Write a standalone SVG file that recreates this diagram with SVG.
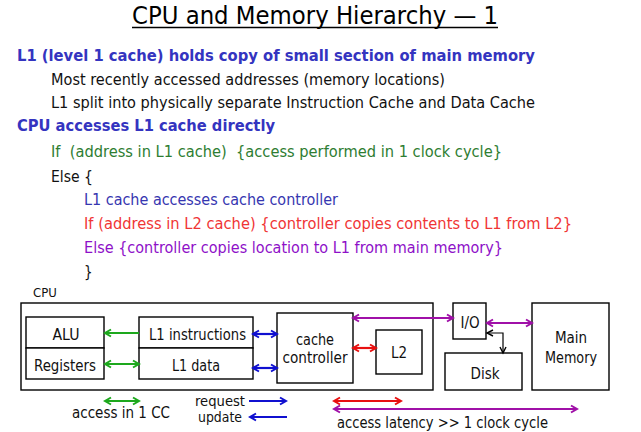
<svg xmlns="http://www.w3.org/2000/svg" width="641" height="432" viewBox="0 0 641 432">
<style>
text{font-family:"DejaVu Sans Condensed","DejaVu Sans","Liberation Sans",sans-serif;}
.t{font-size:15px;}
.b{font-weight:bold;fill:#3434C0;}
.k{fill:#111;}
.g{fill:#2E7D32;}
.bl{fill:#3636B0;}
.r{fill:#F03535;}
.p{fill:#8E10C8;}
.d{font-size:15px;fill:#111;text-anchor:middle;}
.lg{font-size:15px;fill:#111;}
.sm{font-size:14px;fill:#111;}
.box{fill:#fff;stroke:#000;stroke-width:1.4;}
.ag{stroke:#1DA81D;stroke-width:2.2;fill:none;}
.ab{stroke:#1010D0;stroke-width:2.2;fill:none;}
.ar{stroke:#E81010;stroke-width:2.2;fill:none;}
.ap{stroke:#A010A8;stroke-width:2.2;fill:none;}
.ak{stroke:#000;stroke-width:1.2;fill:none;}
</style>
<defs>
<marker id="mg" markerUnits="userSpaceOnUse" markerWidth="10" markerHeight="10" refX="8" refY="5" orient="auto-start-reverse"><path d="M2,1.5 L8,5 L2,8.5" fill="none" stroke="#1DA81D" stroke-width="2"/></marker>
<marker id="mb" markerUnits="userSpaceOnUse" markerWidth="10" markerHeight="10" refX="8" refY="5" orient="auto-start-reverse"><path d="M2,1.5 L8,5 L2,8.5" fill="none" stroke="#1010D0" stroke-width="2"/></marker>
<marker id="mr" markerUnits="userSpaceOnUse" markerWidth="10" markerHeight="10" refX="8" refY="5" orient="auto-start-reverse"><path d="M2,1.5 L8,5 L2,8.5" fill="none" stroke="#E81010" stroke-width="2"/></marker>
<marker id="mp" markerUnits="userSpaceOnUse" markerWidth="10" markerHeight="10" refX="8" refY="5" orient="auto-start-reverse"><path d="M2,1.5 L8,5 L2,8.5" fill="none" stroke="#A010A8" stroke-width="2"/></marker>
<marker id="mk" markerUnits="userSpaceOnUse" markerWidth="10" markerHeight="10" refX="8" refY="5" orient="auto-start-reverse"><path d="M2,2 L8,5 L2,8" fill="none" stroke="#000" stroke-width="1.4"/></marker>
</defs>
<rect width="641" height="432" fill="#fff"/>

<g id="title">
<text x="132" y="24" font-size="25" fill="#000" textLength="366" lengthAdjust="spacingAndGlyphs">CPU and Memory Hierarchy — 1</text>
<line x1="132" y1="27.5" x2="498" y2="27.5" stroke="#000" stroke-width="1.5"/>
</g>

<g id="body">
<text class="t b" x="17" y="61" textLength="518" lengthAdjust="spacingAndGlyphs">L1 (level 1 cache) holds copy of small section of main memory</text>
<text class="t k" x="51" y="85" textLength="394" lengthAdjust="spacingAndGlyphs">Most recently accessed addresses (memory locations)</text>
<text class="t k" x="51" y="108" textLength="484" lengthAdjust="spacingAndGlyphs">L1 split into physically separate Instruction Cache and Data Cache</text>
<text class="t b" x="17" y="131" textLength="258" lengthAdjust="spacingAndGlyphs">CPU accesses L1 cache directly</text>
<text class="t g" x="51" y="157" textLength="451" lengthAdjust="spacingAndGlyphs" xml:space="preserve">If  (address in L1 cache)  {access performed in 1 clock cycle}</text>
<text class="t k" x="51" y="182" textLength="42" lengthAdjust="spacingAndGlyphs">Else {</text>
<text class="t bl" x="84" y="205" textLength="254" lengthAdjust="spacingAndGlyphs">L1 cache accesses cache controller</text>
<text class="t r" x="84" y="229" textLength="488" lengthAdjust="spacingAndGlyphs">If (address in L2 cache) {controller copies contents to L1 from L2}</text>
<text class="t p" x="84" y="253" textLength="419" lengthAdjust="spacingAndGlyphs">Else {controller copies location to L1 from main memory}</text>
<text class="t k" x="84" y="277">}</text>
</g>

<g id="cpu">
<rect class="box" x="21" y="303" width="412" height="87"/>
<text x="33" y="297" font-size="13" fill="#111">CPU</text>
</g>
<g id="alu">
<rect class="box" x="26" y="317" width="78" height="31"/>
<text class="d" x="66" y="340" textLength="27" lengthAdjust="spacingAndGlyphs">ALU</text>
</g>
<g id="registers">
<rect class="box" x="26" y="348" width="78" height="31"/>
<text class="d" x="65" y="371" textLength="62" lengthAdjust="spacingAndGlyphs">Registers</text>
</g>
<g id="l1i">
<rect class="box" x="139" y="317" width="114" height="31"/>
<text class="d" x="197.5" y="340" textLength="97" lengthAdjust="spacingAndGlyphs">L1 instructions</text>
</g>
<g id="l1d">
<rect class="box" x="139" y="348" width="114" height="31"/>
<text class="d" x="196" y="371" textLength="48" lengthAdjust="spacingAndGlyphs">L1 data</text>
</g>
<g id="controller">
<rect class="box" x="277" y="313" width="76" height="70"/>
<text class="d" x="315" y="345" textLength="38" lengthAdjust="spacingAndGlyphs">cache</text>
<text class="d" x="315" y="363" textLength="65" lengthAdjust="spacingAndGlyphs">controller</text>
</g>
<g id="l2">
<rect class="box" x="376" y="330" width="46" height="44"/>
<text class="d" x="399" y="358">L2</text>
</g>
<g id="io">
<rect class="box" x="453" y="303" width="33" height="36"/>
<text class="d" x="470" y="328">I/O</text>
</g>
<g id="memory">
<rect class="box" x="532" y="303" width="77" height="87"/>
<text class="d" x="571" y="343">Main</text>
<text class="d" x="571" y="363" textLength="52" lengthAdjust="spacingAndGlyphs">Memory</text>
</g>
<g id="disk">
<rect class="box" x="445" y="353" width="77" height="37"/>
<text class="d" x="485" y="379">Disk</text>
</g>

<g id="connectors">
<line class="ag" x1="139" y1="333" x2="105" y2="333" marker-end="url(#mg)"/>
<line class="ag" x1="105" y1="364" x2="139" y2="364" marker-start="url(#mg)" marker-end="url(#mg)"/>
<line class="ab" x1="253" y1="334" x2="277" y2="334" marker-start="url(#mb)" marker-end="url(#mb)"/>
<line class="ab" x1="253" y1="368" x2="277" y2="368" marker-start="url(#mb)" marker-end="url(#mb)"/>
<line class="ar" x1="353" y1="348" x2="376" y2="348" marker-start="url(#mr)" marker-end="url(#mr)"/>
<line class="ap" x1="353" y1="318" x2="453" y2="318" marker-start="url(#mp)" marker-end="url(#mp)"/>
<line class="ap" x1="487" y1="323" x2="532" y2="323" marker-start="url(#mp)" marker-end="url(#mp)"/>
<polyline class="ak" points="487,333 503,333 503,353" marker-start="url(#mk)" marker-end="url(#mk)"/>
</g>

<g id="legend">
<line class="ag" x1="105" y1="401" x2="139" y2="401" marker-start="url(#mg)" marker-end="url(#mg)"/>
<text class="lg" x="72" y="418" textLength="98" lengthAdjust="spacingAndGlyphs">access in 1 CC</text>
<text class="sm" x="195" y="405.5" textLength="50" lengthAdjust="spacingAndGlyphs">request</text>
<line class="ab" x1="249" y1="401" x2="286" y2="401" marker-end="url(#mb)"/>
<text class="sm" x="198" y="422" textLength="44" lengthAdjust="spacingAndGlyphs">update</text>
<line class="ab" x1="287" y1="417" x2="250" y2="417" marker-end="url(#mb)"/>
<line class="ar" x1="334" y1="401" x2="401" y2="401" marker-start="url(#mr)" marker-end="url(#mr)"/>
<line class="ap" x1="334" y1="409" x2="577" y2="409" marker-start="url(#mp)" marker-end="url(#mp)"/>
<text class="lg" x="337" y="428" textLength="211" lengthAdjust="spacingAndGlyphs">access latency &gt;&gt; 1 clock cycle</text>
</g>
</svg>
